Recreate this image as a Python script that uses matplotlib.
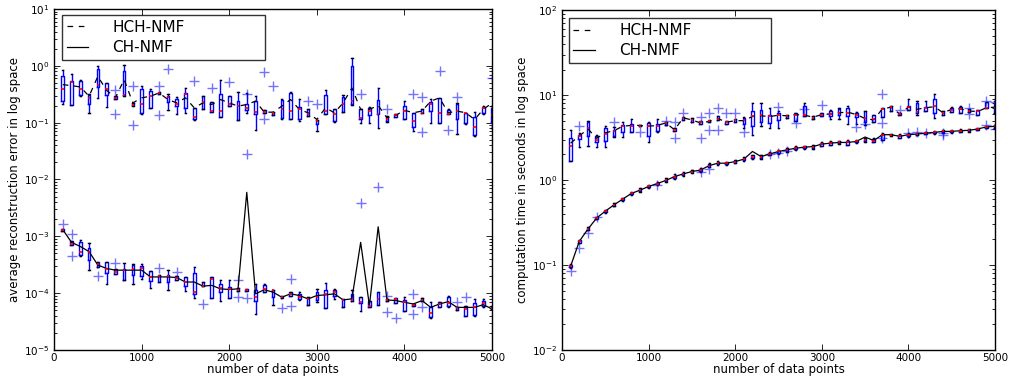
import numpy as np
import matplotlib
matplotlib.use('Agg')
import matplotlib.pyplot as plt

# number of data points (box positions)
positions = list(range(100, 5001, 100))

# ---- left panel: reconstruction error, HCH-NMF ----
err_hch_whi = [0.83, 0.725, 0.570, 0.321, 1.0, 0.499, 0.292, 1.03, 0.220, 0.448,
               0.392, 0.352, 0.316, 0.284, 0.408, 0.183, 0.292, 0.229, 0.570, 0.292,
               0.343, 0.334, 0.292, 0.166, 0.153, 0.262, 0.343, 0.262, 0.176, 0.111,
               0.371, 0.171, 0.312, 1.36, 0.171, 0.190, 0.408, 0.131, 0.140, 0.239,
               0.149, 0.176, 0.262, 0.273, 0.176, 0.223, 0.149, 0.153, 0.195, 0.195]
err_hch_q3 = [0.652, 0.533, 0.533, 0.312, 0.875, 0.499, 0.292, 0.82, 0.220, 0.392,
              0.366, 0.352, 0.296, 0.262, 0.334, 0.183, 0.292, 0.229, 0.325, 0.292,
              0.239, 0.214, 0.236, 0.166, 0.153, 0.255, 0.334, 0.190, 0.176, 0.111,
              0.312, 0.171, 0.284, 1.0, 0.171, 0.183, 0.255, 0.127, 0.140, 0.195,
              0.149, 0.176, 0.229, 0.273, 0.166, 0.209, 0.149, 0.127, 0.188, 0.183]
err_hch_med = [0.392, 0.526, 0.392, 0.273, 0.454, 0.392, 0.269, 0.304, 0.206, 0.214,
               0.292, 0.334, 0.284, 0.217, 0.325, 0.127, 0.232, 0.162, 0.162, 0.209,
               0.195, 0.180, 0.153, 0.153, 0.145, 0.171, 0.158, 0.171, 0.140, 0.105,
               0.160, 0.144, 0.217, 0.236, 0.122, 0.160, 0.140, 0.114, 0.134, 0.160,
               0.105, 0.149, 0.217, 0.149, 0.144, 0.158, 0.145, 0.0840, 0.183, 0.138]
err_hch_q1 = [0.239, 0.201, 0.312, 0.209, 0.425, 0.312, 0.262, 0.304, 0.201, 0.145,
              0.183, 0.316, 0.229, 0.195, 0.183, 0.114, 0.176, 0.153, 0.127, 0.195,
              0.110, 0.164, 0.140, 0.145, 0.134, 0.122, 0.117, 0.117, 0.131, 0.0935,
              0.140, 0.107, 0.153, 0.209, 0.117, 0.134, 0.140, 0.107, 0.127, 0.117,
              0.0851, 0.145, 0.160, 0.0973, 0.140, 0.117, 0.0973, 0.0601, 0.145, 0.103]
err_hch_wlo = [0.217, 0.201, 0.292, 0.149, 0.269, 0.190, 0.262, 0.292, 0.195, 0.142,
               0.183, 0.316, 0.164, 0.140, 0.149, 0.111, 0.171, 0.153, 0.127, 0.195,
               0.110, 0.149, 0.0745, 0.145, 0.134, 0.117, 0.114, 0.105, 0.131, 0.0716,
               0.140, 0.103, 0.153, 0.201, 0.100, 0.100, 0.0818, 0.103, 0.127, 0.117,
               0.0716, 0.145, 0.100, 0.0973, 0.140, 0.0626, 0.0935, 0.0585, 0.140, 0.0818]
err_hch_mean = [0.467, 0.448, 0.425, 0.292, 0.652, 0.371, 0.273, 0.570, 0.223, 0.273,
                0.292, 0.334, 0.255, 0.223, 0.273, 0.183, 0.223, 0.209, 0.255, 0.223,
                0.195, 0.209, 0.239, 0.153, 0.153, 0.195, 0.255, 0.171, 0.149, 0.114,
                0.183, 0.149, 0.223, 0.408, 0.171, 0.171, 0.201, 0.122, 0.134, 0.166,
                0.149, 0.160, 0.239, 0.273, 0.149, 0.160, 0.149, 0.114, 0.171, 0.223]
err_hch_flier_x = [700, 700, 900, 900, 1200, 1200, 1300, 1600, 1800, 2000, 2200, 2400, 2400,
                   2500, 2900, 3000, 3500, 3800, 4100, 4200, 4200, 4400, 4500, 4600, 5000]
err_hch_flier_y = [0.371, 0.144, 0.448, 0.0923, 0.448, 0.134, 0.875, 0.533, 0.413, 0.526, 0.325,
                   0.765, 0.114, 0.448, 0.239, 0.217, 0.325, 0.171, 0.325, 0.284, 0.0687,
                   0.82, 0.0745, 0.284, 0.609]

# ---- left panel: reconstruction error, CH-NMF ----
err_ch_whi = [1.35e-3, 8.14e-4, 8.72e-4, 7.60e-4, 3.58e-4, 3.58e-4, 2.61e-4, 3.43e-4, 3.25e-4, 3.25e-4,
              2.47e-4, 2.07e-4, 2.54e-4, 1.99e-4, 1.93e-4, 2.91e-4, 1.57e-4, 1.93e-4, 1.68e-4, 1.68e-4,
              1.25e-4, 1.18e-4, 1.47e-4, 1.45e-4, 1.15e-4, 9.08e-5, 1.04e-4, 1.04e-4, 8.48e-5, 1.19e-4,
              1.51e-4, 1.19e-4, 7.93e-5, 1.12e-4, 8.71e-5, 7.20e-5, 1.04e-4, 7.93e-5, 8.25e-5, 8.48e-5,
              6.45e-5, 8.25e-5, 6.90e-5, 6.90e-5, 9.08e-5, 5.78e-5, 6.03e-5, 7.93e-5, 7.93e-5, 6.03e-5]
err_ch_q3 = [1.35e-3, 8.14e-4, 7.82e-4, 6.19e-4, 3.58e-4, 3.58e-4, 2.61e-4, 2.61e-4, 3.12e-4, 2.99e-4,
             2.47e-4, 2.07e-4, 2.12e-4, 1.99e-4, 1.93e-4, 2.28e-4, 1.57e-4, 1.93e-4, 1.47e-4, 1.28e-4,
             1.25e-4, 1.18e-4, 1.12e-4, 1.37e-4, 1.15e-4, 9.08e-5, 1.04e-4, 9.47e-5, 8.48e-5, 1.04e-4,
             1.15e-4, 1.12e-4, 7.93e-5, 9.73e-5, 8.71e-5, 7.20e-5, 1.04e-4, 7.93e-5, 8.25e-5, 7.61e-5,
             6.45e-5, 8.25e-5, 5.62e-5, 6.90e-5, 8.48e-5, 5.78e-5, 6.03e-5, 6.62e-5, 7.20e-5, 6.03e-5]
err_ch_med = [1.31e-3, 7.40e-4, 5.39e-4, 5.39e-4, 3.25e-4, 2.61e-4, 2.37e-4, 2.54e-4, 2.61e-4, 2.72e-4,
              1.93e-4, 1.99e-4, 1.99e-4, 1.85e-4, 1.57e-4, 1.04e-4, 1.32e-4, 1.80e-4, 1.25e-4, 1.19e-4,
              1.15e-4, 1.15e-4, 8.48e-5, 1.18e-4, 1.12e-4, 8.48e-5, 9.47e-5, 8.71e-5, 7.93e-5, 8.48e-5,
              9.47e-5, 1.04e-4, 7.61e-5, 7.61e-5, 6.90e-5, 6.03e-5, 7.93e-5, 7.61e-5, 7.93e-5, 6.90e-5,
              6.28e-5, 7.61e-5, 4.40e-5, 6.45e-5, 6.62e-5, 5.47e-5, 5.25e-5, 5.78e-5, 6.62e-5, 5.47e-5]
err_ch_q1 = [1.23e-3, 7.10e-4, 4.71e-4, 3.83e-4, 2.91e-4, 2.22e-4, 2.16e-4, 1.73e-4, 2.07e-4, 1.99e-4,
             1.64e-4, 1.57e-4, 1.57e-4, 1.73e-4, 1.32e-4, 9.73e-5, 1.32e-4, 8.25e-5, 1.04e-4, 8.25e-5,
             1.09e-4, 1.10e-4, 7.20e-5, 1.04e-4, 8.48e-5, 8.25e-5, 9.08e-5, 7.93e-5, 6.28e-5, 7.61e-5,
             5.47e-5, 9.08e-5, 5.78e-5, 7.20e-5, 6.62e-5, 5.62e-5, 6.28e-5, 7.20e-5, 6.62e-5, 4.90e-5,
             5.86e-5, 7.20e-5, 3.83e-5, 5.78e-5, 6.03e-5, 5.04e-5, 3.99e-5, 4.10e-5, 6.03e-5, 5.25e-5]
err_ch_wlo = [1.23e-3, 7.10e-4, 4.52e-4, 2.60e-4, 2.91e-4, 1.47e-4, 2.16e-4, 1.68e-4, 1.47e-4, 1.80e-4,
              1.25e-4, 1.57e-4, 1.15e-4, 1.73e-4, 1.07e-4, 8.25e-5, 1.32e-4, 8.25e-5, 7.20e-5, 8.25e-5,
              1.09e-4, 1.10e-4, 4.30e-5, 1.04e-4, 6.28e-5, 8.25e-5, 9.08e-5, 7.61e-5, 6.28e-5, 6.90e-5,
              5.47e-5, 7.93e-5, 5.78e-5, 7.20e-5, 4.90e-5, 5.62e-5, 6.28e-5, 7.20e-5, 6.62e-5, 4.77e-5,
              5.86e-5, 7.20e-5, 3.72e-5, 5.78e-5, 5.78e-5, 5.04e-5, 3.99e-5, 3.99e-5, 5.78e-5, 5.25e-5]
err_ch_mean = [1.31e-3, 7.82e-4, 6.62e-4, 5.39e-4, 3.12e-4, 2.72e-4, 2.54e-4, 2.54e-4, 2.54e-4, 2.54e-4,
               1.93e-4, 1.93e-4, 1.93e-4, 1.88e-4, 1.57e-4, 1.57e-4, 1.33e-4, 1.37e-4, 1.19e-4, 1.16e-4,
               1.19e-4, 5.94e-3, 9.73e-5, 1.15e-4, 1.04e-4, 8.48e-5, 9.73e-5, 9.08e-5, 7.93e-5, 9.08e-5,
               9.34e-5, 9.73e-5, 7.61e-5, 7.93e-5, 7.82e-4, 6.03e-5, 1.47e-3, 7.61e-5, 7.40e-5, 6.90e-5,
               6.45e-5, 7.40e-5, 5.62e-5, 6.45e-5, 7.10e-5, 5.62e-5, 5.62e-5, 5.62e-5, 6.28e-5, 5.25e-5]
err_ch_flier_x = [100, 200, 200, 500, 700, 1200, 1400, 1700, 2100, 2100, 2200, 2200, 2600, 2700,
                  2700, 3500, 3700, 3800, 3800, 3900, 4100, 4100, 4200, 4600, 4700]
err_ch_flier_y = [1.68e-3, 1.10e-3, 4.52e-4, 2.01e-4, 3.43e-4, 2.79e-4, 2.37e-4, 6.45e-5, 1.73e-4,
                  8.71e-5, 8.14e-5, 2.76e-2, 5.40e-5, 1.80e-4, 6.03e-5, 3.83e-3, 7.30e-3, 9.08e-5,
                  4.58e-5, 3.72e-5, 9.47e-5, 4.28e-5, 5.62e-5, 6.90e-5, 8.71e-5]

# ---- right panel: computation time, HCH-NMF ----
time_hch_whi = [3.85, 3.57, 4.92, 3.42, 4.29, 4.21, 4.79, 5.24, 4.49, 4.79,
                5.24, 4.79, 4.10, 5.54, 5.39, 4.92, 5.14, 5.74, 4.92, 5.24,
                5.54, 7.97, 7.97, 7.08, 6.46, 5.90, 6.18, 8.11, 5.64, 6.18,
                6.76, 7.08, 7.54, 6.29, 6.46, 5.90, 7.08, 7.54, 6.18, 8.89,
                8.49, 8.49, 10.2, 6.46, 7.27, 7.41, 6.89, 6.76, 8.26, 8.49]
time_hch_q3 = [3.12, 3.42, 4.79, 3.27, 4.10, 3.92, 4.49, 4.61, 4.49, 4.70,
               4.61, 4.79, 4.10, 5.54, 5.39, 4.92, 5.14, 5.64, 4.92, 5.24,
               5.39, 6.46, 6.76, 5.90, 6.18, 5.90, 6.18, 7.41, 5.64, 6.18,
               6.46, 6.89, 7.08, 6.18, 6.46, 5.90, 7.08, 7.41, 6.18, 7.41,
               8.11, 7.27, 8.89, 6.46, 7.08, 7.27, 6.89, 6.76, 8.26, 8.11]
time_hch_med = [2.53, 3.27, 4.10, 2.98, 3.51, 3.74, 4.37, 4.37, 4.37, 4.37,
                4.37, 4.70, 3.85, 5.39, 5.14, 4.79, 4.92, 5.24, 4.79, 5.05,
                5.05, 5.64, 5.90, 5.64, 5.90, 5.74, 5.90, 5.90, 5.39, 5.90,
                6.06, 6.18, 6.18, 5.90, 5.39, 5.24, 6.89, 7.27, 6.06, 7.27,
                6.29, 7.08, 7.41, 6.18, 6.76, 6.89, 6.46, 6.46, 7.08, 7.08]
time_hch_q1 = [1.69, 3.03, 3.27, 2.77, 2.85, 3.32, 3.64, 3.64, 4.29, 3.32,
               3.74, 4.49, 3.74, 5.14, 4.79, 4.61, 4.79, 5.05, 4.61, 4.79,
               4.61, 4.37, 4.79, 4.70, 5.14, 5.39, 4.92, 5.74, 5.24, 5.64,
               5.64, 5.90, 5.74, 5.54, 4.79, 4.79, 5.54, 6.46, 5.90, 6.76,
               6.18, 6.46, 6.18, 5.90, 6.29, 6.18, 6.29, 5.90, 7.08, 6.18]
time_hch_wlo = [1.69, 2.48, 2.53, 2.48, 2.48, 3.21, 3.21, 3.64, 4.29, 2.77,
                3.64, 4.49, 3.74, 5.14, 4.79, 4.61, 4.79, 5.05, 4.61, 4.79,
                4.10, 3.42, 4.37, 4.10, 4.10, 5.39, 4.92, 5.64, 5.24, 5.64,
                5.24, 5.24, 4.61, 4.61, 4.49, 4.79, 5.54, 6.46, 5.90, 6.76,
                5.90, 6.46, 5.39, 5.90, 6.29, 6.18, 6.29, 5.90, 7.08, 6.18]
time_hch_mean = [2.72, 3.3, 4.0, 3.1, 3.6, 3.8, 4.3, 4.4, 4.4, 4.3,
                 4.4, 4.7, 3.9, 5.4, 5.1, 4.7, 4.9, 5.3, 4.8, 5.0,
                 5.0, 5.6, 5.7, 5.6, 5.8, 5.7, 5.9, 5.8, 5.5, 5.9,
                 6.0, 6.2, 6.3, 5.9, 5.3, 5.1, 6.9, 7.2, 6.0, 7.2,
                 6.8, 7.1, 7.3, 6.2, 6.8, 6.9, 6.5, 6.4, 7.1, 7.2]
time_hch_flier_x = [200, 600, 900, 1200, 1300, 1300, 1400, 1600, 1600, 1700, 1700, 1800, 1800,
                    1900, 2000, 2100, 2500, 2700, 2800, 3000, 3400, 3500, 3700, 3700, 3900,
                    4700, 4700, 4900, 5000]
time_hch_flier_y = [4.29, 4.79, 3.64, 4.92, 4.79, 3.12, 6.18, 5.54, 3.12, 6.18, 3.92, 7.08, 3.92,
                    6.18, 6.18, 3.64, 7.27, 4.70, 6.89, 7.75, 4.21, 4.61, 10.2, 4.70, 6.76,
                    7.08, 6.06, 8.49, 8.2]

# ---- right panel: computation time, CH-NMF ----
time_ch_whi = [0.102, 0.198, 0.28, 0.372, 0.45, 0.53, 0.62, 0.72, 0.80, 0.88,
               0.95, 1.05, 1.17, 1.26, 1.33, 1.38, 1.57, 1.66, 1.65, 1.74,
               1.86, 1.97, 1.97, 2.15, 2.26, 2.38, 2.50, 2.55, 2.60, 2.80,
               2.86, 2.90, 2.98, 2.98, 3.10, 3.15, 3.55, 3.52, 3.48, 3.56,
               3.60, 3.70, 3.78, 3.86, 3.88, 3.95, 3.98, 4.10, 4.36, 4.46]
time_ch_q3 = [0.100, 0.195, 0.272, 0.365, 0.44, 0.52, 0.61, 0.71, 0.78, 0.86,
              0.93, 1.02, 1.13, 1.22, 1.30, 1.35, 1.53, 1.62, 1.62, 1.70,
              1.82, 1.95, 1.95, 2.10, 2.22, 2.33, 2.45, 2.50, 2.55, 2.75,
              2.80, 2.85, 2.90, 2.92, 3.05, 3.05, 3.45, 3.48, 3.40, 3.50,
              3.55, 3.65, 3.72, 3.80, 3.82, 3.90, 3.92, 4.05, 4.30, 4.40]
time_ch_med = [0.097, 0.19, 0.265, 0.357, 0.43, 0.51, 0.595, 0.695, 0.76, 0.84,
               0.91, 0.99, 1.10, 1.18, 1.26, 1.31, 1.48, 1.58, 1.58, 1.65,
               1.76, 1.89, 1.89, 2.03, 2.17, 2.27, 2.37, 2.44, 2.48, 2.65,
               2.72, 2.77, 2.77, 2.85, 2.98, 2.92, 3.42, 3.42, 3.27, 3.42,
               3.48, 3.57, 3.64, 3.74, 3.74, 3.81, 3.85, 3.99, 4.22, 4.29]
time_ch_q1 = [0.094, 0.183, 0.258, 0.350, 0.42, 0.50, 0.58, 0.68, 0.74, 0.82,
              0.89, 0.97, 1.07, 1.15, 1.23, 1.28, 1.44, 1.53, 1.54, 1.60,
              1.71, 1.80, 1.82, 1.98, 2.10, 2.20, 2.30, 2.38, 2.40, 2.55,
              2.62, 2.70, 2.62, 2.78, 2.88, 2.82, 3.00, 3.35, 3.15, 3.30,
              3.40, 3.50, 3.58, 3.65, 3.66, 3.72, 3.78, 3.90, 4.12, 4.15]
time_ch_wlo = [0.092, 0.180, 0.255, 0.345, 0.41, 0.49, 0.57, 0.67, 0.73, 0.80,
               0.87, 0.95, 1.04, 1.12, 1.20, 1.25, 1.41, 1.50, 1.50, 1.57,
               1.68, 1.78, 1.78, 1.95, 2.05, 2.15, 2.25, 2.33, 2.35, 2.50,
               2.58, 2.65, 2.58, 2.72, 2.82, 2.78, 2.95, 3.30, 3.10, 3.25,
               3.35, 3.45, 3.52, 3.60, 3.62, 3.68, 3.72, 3.85, 4.05, 4.10]
time_ch_mean = [0.097, 0.19, 0.265, 0.357, 0.43, 0.51, 0.595, 0.695, 0.76, 0.84,
                0.91, 0.99, 1.10, 1.18, 1.26, 1.31, 1.48, 1.58, 1.58, 1.65,
                1.76, 2.17, 1.89, 2.03, 2.17, 2.27, 2.37, 2.44, 2.48, 2.65,
                2.72, 2.77, 2.77, 2.85, 3.21, 2.92, 3.42, 3.42, 3.27, 3.42,
                3.48, 3.57, 3.64, 3.74, 3.74, 3.81, 3.85, 3.99, 4.22, 4.29]
time_ch_flier_x = [100, 200, 300, 400, 1100, 1600, 1700, 2400, 2500, 2600, 3700,
                   4000, 4100, 4200, 4400, 4400, 4900, 5000]
time_ch_flier_y = [0.085, 0.16, 0.24, 0.37, 0.88, 1.25, 1.35, 2.05, 2.10, 2.20, 3.10,
                   3.58, 3.64, 3.57, 3.35, 3.60, 4.40, 3.95]

x_ticks = [0, 1000, 2000, 3000, 4000, 5000]


def make_stats(wlo, q1, med, q3, whi):
    """bxp needs a list of dicts"""
    return [dict(med=m, q1=a, q3=b, whislo=lo, whishi=hi, fliers=[])
            for lo, a, m, b, hi in zip(wlo, q1, med, q3, whi)]


def draw_boxes(ax, stats, fx, fy):
    ax.bxp(stats, positions=positions, widths=30, showfliers=False, manage_ticks=False,
           boxprops=dict(color='#0000ff', lw=1.0),
           whiskerprops=dict(color='#0000ff', lw=1.0),
           capprops=dict(color='k', lw=1.0),
           medianprops=dict(color='#ff0000', lw=1.2))
    ax.plot(fx, fy, '+', color='#0000ff', alpha=0.55, ms=7, mew=1.0, ls='none')


def style_axis(ax, ylim, ylabel):
    ax.set_yscale('log')
    ax.set_xlim(0, 5000)
    ax.set_ylim(*ylim)
    ax.set_xticks(x_ticks)
    ax.tick_params(which='both', direction='in', top=True, right=True, labelsize=7.5)
    ax.tick_params(which='major', length=4, width=0.6)
    ax.tick_params(which='minor', length=2, width=0.6)
    ax.tick_params(axis='x', pad=2)
    for sp in ax.spines.values():
        sp.set_linewidth(1.0)
    ax.set_xlabel('number of data points', fontsize=8.5, labelpad=0)
    ax.set_ylabel(ylabel, fontsize=8.5, labelpad=2)


def main():
    fig = plt.figure(figsize=(10.1, 3.81), dpi=100)
    ax1 = fig.add_axes([0.0535, 0.0814, 0.4337, 0.895])
    ax2 = fig.add_axes([0.5564, 0.0814, 0.4287, 0.892])

    # left: reconstruction error
    draw_boxes(ax1, make_stats(err_hch_wlo, err_hch_q1, err_hch_med, err_hch_q3, err_hch_whi),
               err_hch_flier_x, err_hch_flier_y)
    draw_boxes(ax1, make_stats(err_ch_wlo, err_ch_q1, err_ch_med, err_ch_q3, err_ch_whi),
               err_ch_flier_x, err_ch_flier_y)
    l1, = ax1.plot(positions, err_hch_mean, color='k', ls='--', dashes=(4.5, 4.5), lw=0.9)
    l2, = ax1.plot(positions, err_ch_mean, color='k', ls='-', lw=0.9)
    style_axis(ax1, (1e-5, 1e1), 'average reconstruction error in log space')
    ax1.legend([l1, l2], ['HCH-NMF', 'CH-NMF'], loc='upper left', mode='expand',
               bbox_to_anchor=(0.018, 0.85, 0.464, 0.132), fontsize=11, frameon=True,
               fancybox=False, edgecolor='k', handlelength=1.4, handletextpad=1.6,
               borderpad=0.3, labelspacing=0.35, borderaxespad=0.0)

    # right: computation time
    draw_boxes(ax2, make_stats(time_hch_wlo, time_hch_q1, time_hch_med, time_hch_q3, time_hch_whi),
               time_hch_flier_x, time_hch_flier_y)
    draw_boxes(ax2, make_stats(time_ch_wlo, time_ch_q1, time_ch_med, time_ch_q3, time_ch_whi),
               time_ch_flier_x, time_ch_flier_y)
    r1, = ax2.plot(positions, time_hch_mean, color='k', ls='--', dashes=(4.5, 4.5), lw=0.9)
    r2, = ax2.plot(positions, time_ch_mean, color='k', ls='-', lw=0.9)
    style_axis(ax2, (1e-2, 1e2), 'computation time in seconds in log space')
    ax2.legend([r1, r2], ['HCH-NMF', 'CH-NMF'], loc='upper left', mode='expand',
               bbox_to_anchor=(0.016, 0.85, 0.467, 0.126), fontsize=11, frameon=True,
               fancybox=False, edgecolor='k', handlelength=1.4, handletextpad=1.6,
               borderpad=0.3, labelspacing=0.35, borderaxespad=0.0)

    for leg in (ax1.get_legend(), ax2.get_legend()):
        leg.get_frame().set_linewidth(1.0)

    fig.savefig('out.png', dpi=100)
    plt.close(fig)


if __name__ == '__main__':
    main()
